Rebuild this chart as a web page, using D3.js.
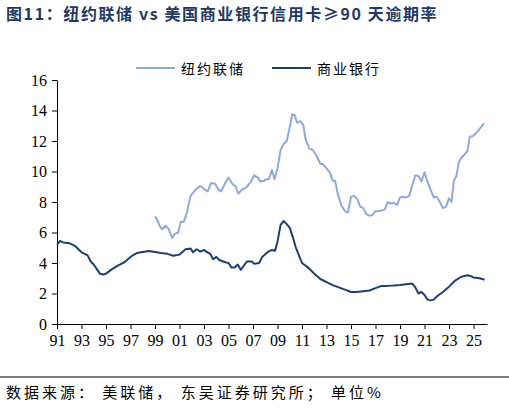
<!DOCTYPE html>
<html><head><meta charset="utf-8">
<script src="https://cdn.jsdelivr.net/npm/d3@7"></script>
<style>body{margin:0;background:#fff}</style></head>
<body><svg id="chart" width="509" height="412"></svg>
<script>
const years = d3.range(1991, 2027, 2)
const tickLabels = years.map(y => String(y).slice(2))
const yTicks = d3.range(0, 17, 2)
const seriesNames = ["纽约联储", "商业银行"]
const colors = ["#8eaadb", "#1f3f73"]

// [year, value]
const nyFed = [[1999.0,7.05],[1999.15,6.9],[1999.4,6.4],[1999.6,6.2],[1999.85,6.45],[2000.1,6.25],[2000.4,5.65],[2000.6,5.9],[2000.9,6.0],[2001.1,6.7],[2001.35,6.7],[2001.6,7.3],[2001.9,8.4],[2002.3,8.8],[2002.7,9.05],[2003.0,8.85],[2003.3,8.7],[2003.6,9.25],[2003.9,9.2],[2004.2,8.8],[2004.4,8.7],[2004.7,9.2],[2005.0,9.6],[2005.3,9.2],[2005.6,9.0],[2005.8,8.55],[2006.1,8.8],[2006.5,9.0],[2006.8,9.3],[2007.1,9.75],[2007.4,9.6],[2007.6,9.35],[2007.9,9.4],[2008.1,9.5],[2008.3,9.5],[2008.55,10.1],[2008.75,9.5],[2009.0,10.2],[2009.25,11.4],[2009.5,11.8],[2009.75,12.0],[2010.0,12.9],[2010.2,13.75],[2010.4,13.7],[2010.6,13.2],[2010.85,13.3],[2011.1,13.05],[2011.3,12.1],[2011.6,11.5],[2011.9,11.4],[2012.2,11.0],[2012.5,10.5],[2012.7,10.5],[2013.0,10.2],[2013.3,9.9],[2013.5,9.4],[2013.7,9.4],[2013.9,8.6],[2014.2,7.8],[2014.5,7.4],[2014.75,7.3],[2015.0,8.35],[2015.25,8.4],[2015.5,8.2],[2015.75,7.7],[2016.0,7.6],[2016.25,7.2],[2016.5,7.1],[2016.75,7.15],[2017.0,7.4],[2017.25,7.4],[2017.5,7.45],[2017.75,7.5],[2018.0,8.0],[2018.25,7.9],[2018.5,7.95],[2018.75,7.8],[2019.0,8.3],[2019.25,8.35],[2019.5,8.3],[2019.75,8.4],[2020.0,9.1],[2020.25,9.75],[2020.5,9.7],[2020.75,9.35],[2021.0,9.95],[2021.25,9.3],[2021.5,8.8],[2021.75,8.3],[2022.0,8.35],[2022.25,8.0],[2022.5,7.6],[2022.75,7.7],[2023.0,8.25],[2023.2,8.0],[2023.4,9.4],[2023.6,9.7],[2023.8,10.6],[2024.0,10.9],[2024.25,11.1],[2024.5,11.35],[2024.7,12.3],[2024.9,12.3],[2025.2,12.5],[2025.5,12.8],[2025.85,13.15]]
const banks = [[1991.0,5.2],[1991.25,5.45],[1991.5,5.35],[1992,5.3],[1992.5,5.1],[1993,4.7],[1993.5,4.5],[1993.75,4.1],[1994.0,3.9],[1994.25,3.6],[1994.5,3.3],[1994.75,3.25],[1995.0,3.3],[1995.5,3.6],[1996.0,3.85],[1996.5,4.05],[1997.0,4.4],[1997.5,4.65],[1998,4.72],[1998.5,4.78],[1999,4.72],[1999.5,4.65],[2000,4.6],[2000.5,4.48],[2001,4.55],[2001.5,4.9],[2001.9,4.95],[2002.1,4.7],[2002.4,4.9],[2002.7,4.75],[2003,4.85],[2003.5,4.6],[2003.75,4.25],[2004,4.4],[2004.25,4.2],[2004.75,4.05],[2005.0,4.0],[2005.25,3.7],[2005.5,3.7],[2005.75,3.9],[2006,3.55],[2006.5,4.1],[2006.9,4.1],[2007.1,3.95],[2007.5,4.0],[2007.75,4.4],[2008.25,4.75],[2008.5,4.85],[2008.8,4.8],[2009.0,5.4],[2009.25,6.5],[2009.5,6.75],[2009.75,6.55],[2010.0,6.3],[2010.25,5.7],[2010.5,5.0],[2010.75,4.5],[2011.0,4.0],[2011.5,3.7],[2012,3.3],[2012.5,2.95],[2013,2.75],[2013.5,2.55],[2014,2.4],[2014.5,2.25],[2015,2.1],[2015.5,2.1],[2016,2.15],[2016.5,2.2],[2017,2.35],[2017.5,2.5],[2018,2.5],[2018.5,2.52],[2019,2.55],[2019.5,2.6],[2020,2.65],[2020.25,2.4],[2020.5,2.0],[2020.75,2.1],[2021.0,1.9],[2021.25,1.6],[2021.5,1.55],[2021.75,1.6],[2022.0,1.8],[2022.5,2.1],[2023,2.45],[2023.5,2.85],[2024,3.1],[2024.5,3.2],[2024.75,3.15],[2025,3.05],[2025.5,3.0],[2025.9,2.9]]

const svg = d3.select("#chart")
const font = "'Liberation Serif','Noto Sans CJK SC',serif"
const cjk = "'Noto Sans CJK SC',sans-serif"

svg.append("text").attr("x", 6).attr("y", 20).attr("font-family", cjk).attr("font-weight", "bold")
  .attr("font-size", 16).attr("letter-spacing", 1.6).attr("fill", "#1f3864").text("图11：纽约联储 vs 美国商业银行信用卡≥90 天逾期率")

const x = d3.scaleLinear().domain([1991, 2026.1]).range([57, 487])
const y = d3.scaleLinear().domain([0, 16]).range([324, 80])

svg.append("g").attr("transform", "translate(57,0)")
  .call(d3.axisLeft(y).tickValues(yTicks).tickSize(5).tickSizeOuter(0))
  .call(g => g.selectAll("text").attr("font-family", font).attr("font-size", 16).attr("fill", "#000").attr("dx", -2))
  .call(g => g.selectAll("line,path").attr("stroke", "#000"))

svg.append("g").attr("transform", "translate(0,324)")
  .call(d3.axisBottom(x).tickValues(years).tickFormat((d, i) => tickLabels[i]).tickSize(5).tickSizeOuter(0))
  .call(g => g.selectAll("text").attr("font-family", font).attr("font-size", 16).attr("fill", "#000").attr("dy", "0.9em"))
  .call(g => g.selectAll("line,path").attr("stroke", "#000"))

const line = d3.line().x(d => x(d[0])).y(d => y(d[1]))
;[nyFed, banks].forEach((s, i) => {
  svg.append("path").datum(s).attr("d", line).attr("fill", "none")
    .attr("stroke", colors[i]).attr("stroke-width", 2).attr("stroke-linejoin", "round")
})

const legend = svg.append("g")
const lx = [136, 272]
seriesNames.forEach((n, i) => {
  legend.append("line").attr("x1", lx[i]).attr("x2", lx[i] + 39).attr("y1", 68).attr("y2", 68)
    .attr("stroke", colors[i]).attr("stroke-width", 2)
  legend.append("text").attr("x", lx[i] + 45).attr("y", 74).attr("font-family", cjk)
    .attr("font-size", 14).attr("fill", "#000").attr("letter-spacing", 2).text(n)
})

svg.append("line").attr("x1", 0).attr("x2", 509).attr("y1", 377).attr("y2", 377).attr("stroke", "#000").attr("stroke-width", 1)
svg.append("text").attr("x", 6).attr("y", 398).attr("font-family", cjk).attr("font-size", 15)
  .attr("fill", "#000").attr("letter-spacing", 3).attr("xml:space", "preserve")
  .text("数据来源： 美联储， 东吴证券研究所； 单位%")
</script></body></html>
